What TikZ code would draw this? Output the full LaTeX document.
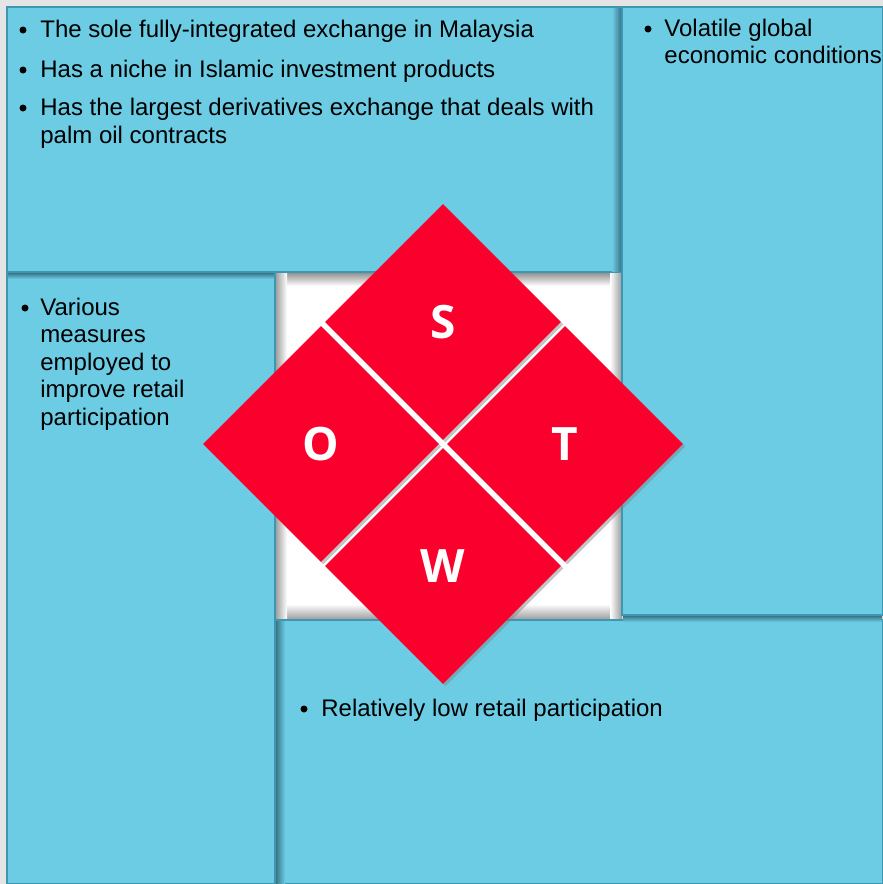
\documentclass[tikz,border=0pt]{standalone}
\usepackage{fontspec}
\setmainfont{Liberation Sans}
\newfontfamily\letterfont{Open Sans}
\usetikzlibrary{shapes.geometric,shadows}

\definecolor{swotblue}{RGB}{107,204,228}
\definecolor{swotedge}{RGB}{62,150,176}
\definecolor{swotdark}{RGB}{58,118,138}
\definecolor{swotred}{RGB}{250,0,45}

\newcommand{\itemfont}{\fontsize{12}{14}\selectfont}

\tikzset{
  box/.style={fill=swotblue, draw=swotedge, line width=0.6pt},
  petal/.style={diamond, aspect=1, fill=swotred, inner sep=0pt, minimum size=118pt,
    text=white, font=\letterfont\bfseries\fontsize{23}{23}\selectfont,
    drop shadow={shadow xshift=1.2pt, shadow yshift=-1.2pt, opacity=0.45}},
  dot/.style={circle, fill=black, inner sep=0pt, minimum size=3.5pt},
  itemtext/.style={anchor=base west, inner sep=0pt, font=\itemfont},
}

\begin{document}
\begin{tikzpicture}[x=0.5pt, y=-0.5pt]
    \useasboundingbox (0,0) rectangle (883,884);
    % outer shadow and centre square
    \fill[black!10] (0,0) rectangle (883,884);
    \fill[white] (275,272) rectangle (622,620);
    \shade[top color=black!45, bottom color=white] (275,272) rectangle (622,286);
    \shade[bottom color=black!40, top color=white] (275,604) rectangle (622,620);
    \shade[left color=black!40, right color=white] (275,272) rectangle (287,620);
    \shade[right color=black!40, left color=white] (610,272) rectangle (622,620);

    % quadrant boxes
    \path[box] (275,620) rectangle (883,884);
    \path[box] (7,272) rectangle (275,884);
    \path[box] (7,7) rectangle (622,272);
    \path[box] (622,7) rectangle (883,615);
    % box shadows
    \shade[left color=swotdark, right color=swotblue] (276,621) rectangle (285,883);
    \shade[top color=swotdark, bottom color=swotblue] (8,273) rectangle (274,279);
    \shade[right color=swotdark, left color=swotblue] (612,8) rectangle (621,271);
    \shade[top color=swotdark, bottom color=swotblue] (623,616) rectangle (882,622);

    % strengths
    \node[dot] (sb1) at (23,30) {};
    \node[itemtext] (st1) at (40,37) {The sole fully-integrated exchange in Malaysia};
    \node[dot] (sb2) at (23,70) {};
    \node[itemtext] (st2) at (40,77) {Has a niche in Islamic investment products};
    \node[dot] (sb3) at (23,108) {};
    \node[itemtext] (st3) at (40,115) {Has the largest derivatives exchange that deals with};
    \node[itemtext] (st3b) at (40,143) {palm oil contracts};

    % threats
    \node[dot] (tb1) at (648,29) {};
    \node[itemtext] (tt1) at (664,36) {Volatile global};
    \node[itemtext] (tt1b) at (664,63) {economic conditions};

    % opportunities
    \node[dot] (ob1) at (25,308) {};
    \foreach \txt [count=\i from 0] in {Various, measures, employed to, improve retail, participation}
      \node[itemtext] (ot\i) at (40,315+27.5*\i) {\txt};

    % weaknesses
    \node[dot] (wb1) at (304,709) {};
    \node[itemtext] (wt1) at (321,716) {Relatively low retail participation};

    % centre diamonds
    \node[petal] (s) at (443,322) {S};
    \node[petal] (o) at (321,444) {O};
    \node[petal] (t) at (565,444) {T};
    \node[petal] (w) at (443,566) {W};
\end{tikzpicture}
\end{document}
